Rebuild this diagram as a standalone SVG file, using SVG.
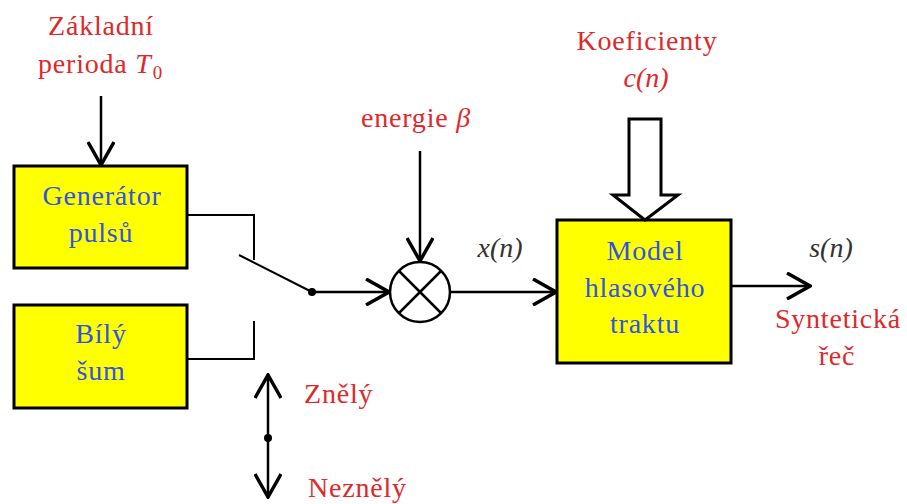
<svg xmlns="http://www.w3.org/2000/svg" width="907" height="504" viewBox="0 0 907 504">
  <style>
    .box { fill: #ffff00; stroke: #000; stroke-width: 3; }
    .red { fill: #e02828; }
    .blue { fill: #2f55e0; }
    .wire { fill: none; stroke: #000; stroke-width: 2; }
    .arr { fill: none; stroke: #000; stroke-width: 2.5; marker-end: url(#chev); }
  </style>
  <defs>
    <marker id="chev" viewBox="0 0 26 28" refX="24" refY="14" markerWidth="26" markerHeight="28" markerUnits="userSpaceOnUse" orient="auto">
      <path d="M1,1 L24,14 L1,27" fill="none" stroke="#000" stroke-width="3.5"/>
    </marker>
  </defs>

  <rect width="907" height="504" fill="#fff"/>

  <!-- all text in one serif face -->
  <g font-family="Liberation Serif, serif" font-size="28" letter-spacing="0.8">

  <!-- free labels -->
  <g id="label-perioda">
    <text class="red" x="101" y="35" text-anchor="middle">Základní</text>
    <text class="red" x="38" y="73">perioda <tspan font-style="italic">T</tspan><tspan font-size="19" dx="1" dy="6" letter-spacing="0">0</tspan></text>
  </g>
  <g id="label-energie">
    <text class="red" x="361" y="127">energie <tspan font-style="italic">β</tspan></text>
  </g>
  <g id="label-koef">
    <text class="red" x="647" y="50" text-anchor="middle">Koeficienty</text>
    <text class="red" x="646" y="87" text-anchor="middle" font-style="italic" letter-spacing="0">c(n)</text>
  </g>
  <g id="label-x">
    <text fill="#333" x="500" y="257" text-anchor="middle" font-style="italic" letter-spacing="0">x(n)</text>
  </g>
  <g id="label-s">
    <text fill="#333" x="831" y="257" text-anchor="middle" font-style="italic" letter-spacing="0">s(n)</text>
    <text class="red" x="838" y="328" text-anchor="middle">Syntetická</text>
    <text class="red" x="837" y="365" text-anchor="middle">řeč</text>
  </g>
  <g id="label-switch">
    <text class="red" x="304" y="403">Znělý</text>
    <text class="red" x="308" y="497">Neznělý</text>
  </g>

  <!-- blocks -->
  <g id="generator">
    <rect class="box" x="14" y="166" width="173" height="102"/>
    <text class="blue" x="102" y="205" text-anchor="middle">Generátor</text>
    <text class="blue" x="101" y="242" text-anchor="middle">pulsů</text>
  </g>
  <g id="sum">
    <rect class="box" x="14" y="305" width="173" height="103"/>
    <text class="blue" x="101" y="343" text-anchor="middle">Bílý</text>
    <text class="blue" x="101" y="380" text-anchor="middle">šum</text>
  </g>
  <g id="model">
    <rect class="box" x="557" y="220" width="174" height="143"/>
    <text class="blue" x="645" y="260" text-anchor="middle">Model</text>
    <text class="blue" x="645" y="297" text-anchor="middle">hlasového</text>
    <text class="blue" x="645" y="333" text-anchor="middle">traktu</text>
  </g>
  </g>

  <g id="multiplier">
    <circle cx="420" cy="292" r="30" fill="#fff" stroke="#000" stroke-width="2.5"/>
    <path d="M399,271 L441,313 M441,271 L399,313" stroke="#000" stroke-width="2.5"/>
  </g>

  <!-- connectors -->
  <g id="connectors">
    <line class="arr" x1="101" y1="96" x2="101" y2="165"/>
    <polyline class="wire" points="187,215 254,215 254,260"/>
    <polyline class="wire" points="187,359 254,359 254,321"/>
    <line class="wire" x1="239" y1="255" x2="312" y2="292"/>
    <circle cx="312" cy="292" r="4" fill="#000"/>
    <line class="arr" x1="312" y1="292" x2="389" y2="292"/>
    <line class="arr" x1="420" y1="151" x2="420" y2="261"/>
    <line class="arr" x1="451" y1="292" x2="556" y2="292"/>
    <line class="arr" x1="731" y1="286" x2="810" y2="286"/>
    <polygon points="629,119 661,119 661,195 678,195 645,220 613,195 629,195" fill="#fff" stroke="#000" stroke-width="3"/>
    <line class="arr" x1="268" y1="438" x2="268" y2="375"/>
    <line class="arr" x1="268" y1="438" x2="268" y2="497"/>
    <circle cx="268" cy="438" r="4" fill="#000"/>
  </g>
</svg>
